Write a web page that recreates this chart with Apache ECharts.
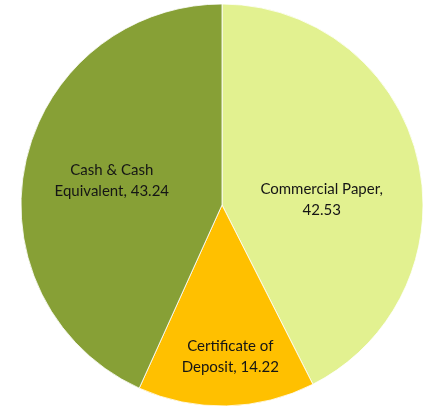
<!DOCTYPE html>
<html>
<head>
<meta charset="utf-8">
<script src="https://cdn.jsdelivr.net/npm/echarts@6/dist/echarts.min.js"></script>
<style>
  html, body { margin: 0; padding: 0; background: #ffffff; }
  #chart { width: 429px; height: 407px; }
</style>
</head>
<body>
<div id="chart"></div>
<script>
// Portfolio composition (%)
const categories = ['Commercial Paper', 'Certificate of\nDeposit', 'Cash & Cash\nEquivalent'];
const values = [42.53, 14.22, 43.24];
const colors = ['#E2F190', '#FFC000', '#87A036'];
// label nudges away from the default mid-radius spot
const labelShift = [[-1, 19], [6, 48], [-9, -3]];

const chart = echarts.init(document.getElementById('chart'), null, { renderer: 'canvas' });

chart.setOption({
  animation: false,
  series: [{
    type: 'pie',
    center: [222, 205],
    radius: 201,
    startAngle: 90,
    clockwise: true,
    avoidLabelOverlap: false,
    data: categories.map((name, i) => ({
      name: name,
      value: values[i],
      itemStyle: { color: colors[i] }
    })),
    itemStyle: { borderColor: 'rgba(255,255,255,0.8)', borderWidth: 1 },
    label: {
      show: true,
      position: 'inside',
      color: '#151515',
      fontFamily: 'Lato',
      fontSize: 15,
      lineHeight: 21,
      align: 'center',
      formatter: p => p.name.indexOf('\n') >= 0
        ? p.name + ', ' + p.value
        : p.name + ',\n' + p.value
    },
    labelLayout: p => ({ dx: labelShift[p.dataIndex][0], dy: labelShift[p.dataIndex][1] }),
    labelLine: { show: false },
    emphasis: { disabled: true }
  }]
});
</script>
</body>
</html>
